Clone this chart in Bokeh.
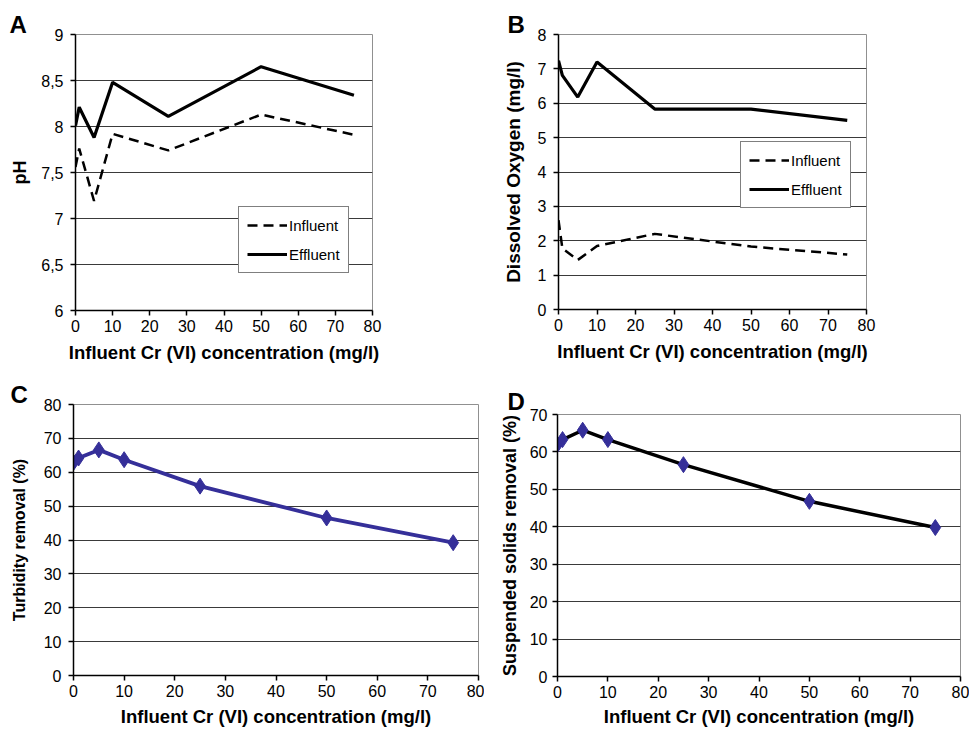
from bokeh.plotting import figure
from bokeh.models import Range1d, FixedTicker, Legend, LegendItem, Title
from bokeh.layouts import column, row
from bokeh.embed import file_html
from bokeh.resources import INLINE

# ---------------- data ----------------
cr_conc = [0, 1, 5, 10, 25, 50, 75]
ph_influent = [7.56, 7.76, 7.19, 7.92, 7.74, 8.13, 7.91]
ph_effluent = [8.01, 8.21, 7.88, 8.48, 8.11, 8.65, 8.34]
do_influent = [2.6, 1.78, 1.44, 1.85, 2.2, 1.83, 1.6]
do_effluent = [7.24, 6.81, 6.18, 7.2, 5.83, 5.83, 5.5]
turbidity_removal = [62.9, 64.2, 66.6, 63.7, 55.9, 46.5, 39.2]
ss_removal = [62.0, 63.3, 65.8, 63.3, 56.6, 46.8, 39.8]

x_ticks = [0, 10, 20, 30, 40, 50, 60, 70, 80]
ph_ticks = [6, 6.5, 7, 7.5, 8, 8.5, 9]
ph_tick_labels = ["6", "6,5", "7", "7,5", "8", "8,5", "9"]
do_ticks = [0, 1, 2, 3, 4, 5, 6, 7, 8]
turb_ticks = [0, 10, 20, 30, 40, 50, 60, 70, 80]
ss_ticks = [0, 10, 20, 30, 40, 50, 60, 70]

x_label = "Influent Cr (VI) concentration (mg/l)"
FONT = "Liberation Sans"
BLUE = "#352F99"


def make_fig(width, height, left, right, top, bottom, yr, yticks, ylabel, ylabel_size, ystandoff, xstandoff):
    p = figure(width=width, height=height, output_backend="svg", toolbar_location=None,
               x_range=Range1d(0, 80), y_range=Range1d(*yr),
               min_border_left=left, min_border_right=right,
               min_border_top=top, min_border_bottom=bottom)
    p.frame_align = False
    p.outline_line_color = "#909090"
    p.outline_line_width = 1
    p.background_fill_color = "white"
    p.border_fill_color = "white"
    p.xgrid.visible = False
    p.ygrid.grid_line_color = "#3a3a3a"
    p.ygrid.grid_line_width = 1
    p.xaxis.ticker = FixedTicker(ticks=x_ticks)
    p.yaxis.ticker = FixedTicker(ticks=yticks)
    for ax in (p.xaxis[0], p.yaxis[0]):
        ax.axis_line_color = "black"
        ax.axis_line_width = 1.5
        ax.major_tick_line_color = "black"
        ax.major_tick_line_width = 1.5
        ax.major_tick_out = 5
        ax.major_tick_in = 0
        ax.minor_tick_line_color = None
        ax.major_label_text_font = FONT
        ax.major_label_text_font_size = "16px"
        ax.major_label_text_color = "black"
        ax.axis_label_text_font = FONT
        ax.axis_label_text_font_style = "bold"
        ax.axis_label_text_color = "black"
    p.xaxis.axis_label = x_label
    p.xaxis.axis_label_text_font_size = "18.5px"
    p.xaxis.major_label_standoff = 4
    p.xaxis.axis_label_standoff = xstandoff
    p.yaxis.axis_label = ylabel
    p.yaxis.axis_label_text_font_size = ylabel_size
    p.yaxis.major_label_standoff = 7
    p.yaxis.axis_label_standoff = ystandoff
    return p


def panel_letter(p, text, offset, standoff=-6):
    p.add_layout(Title(text=text, align="left", offset=offset, standoff=standoff,
                       text_font=FONT, text_font_size="24px", text_font_style="bold",
                       text_color="black"), "above")


def add_legend(p, r_inf, r_eff, loc):
    leg = Legend(items=[LegendItem(label="Influent", renderers=[r_inf]),
                        LegendItem(label="Effluent", renderers=[r_eff])],
                 location=loc)
    leg.border_line_color = "black"
    leg.border_line_width = 1.2
    leg.background_fill_alpha = 1
    leg.label_text_font = FONT
    leg.label_text_font_size = "15px"
    leg.label_text_color = "black"
    leg.glyph_width = 40
    leg.glyph_height = 20
    leg.label_height = 20
    leg.label_standoff = 2
    leg.spacing = 9
    leg.padding = 8
    leg.margin = 0
    p.add_layout(leg, "center")


# ---------------- Panel A ----------------
pA = make_fig(484, 370, 75, 112, 34, 60, (6, 9), ph_ticks, "pH", "18px", 8, 7)
pA.yaxis.major_label_overrides = {t: l for t, l in zip(ph_ticks, ph_tick_labels)}
rA_inf = pA.line(cr_conc, ph_influent, line_color="black", line_width=2.5, line_dash="10 6")
rA_eff = pA.line(cr_conc, ph_effluent, line_color="black", line_width=3.2)
add_legend(pA, rA_inf, rA_eff, (163, 37))
panel_letter(pA, "A", -66)

# ---------------- Panel B ----------------
pB = make_fig(485, 370, 74, 103, 34, 61, (0, 8), do_ticks, "Dissolved Oxygen (mg/l)", "19px", 11, 7)
rB_inf = pB.line(cr_conc, do_influent, line_color="black", line_width=2.5, line_dash="10 6")
rB_eff = pB.line(cr_conc, do_effluent, line_color="black", line_width=3.2)
add_legend(pB, rB_inf, rB_eff, (182, 101))
panel_letter(pB, "B", -51)

# ---------------- Panel C ----------------
pC = make_fig(484, 360, 73, 6, 34, 55, (0, 80), turb_ticks, "Turbidity removal (%)", "16px", 13, 6)
pC.line(cr_conc, turbidity_removal, line_color=BLUE, line_width=3.8)
pC.scatter(cr_conc, turbidity_removal, marker="diamond", size=16, fill_color=BLUE, line_color=BLUE)
panel_letter(pC, "C", -63)

# ---------------- Panel D ----------------
pD = make_fig(485, 360, 73, 9, 44, 54, (0, 70), ss_ticks, "Suspended solids removal (%)", "18px", 7, 5)
pD.yaxis.major_label_standoff = 5
pD.line(cr_conc, ss_removal, line_color="black", line_width=3.5)
pD.scatter(cr_conc, ss_removal, marker="diamond", size=16, fill_color=BLUE, line_color=BLUE)
panel_letter(pD, "D", -50, standoff=0)

layout = column(row(pA, pB, spacing=0), row(pC, pD, spacing=0), spacing=0)
open("out.html", "w").write(file_html(layout, INLINE))
